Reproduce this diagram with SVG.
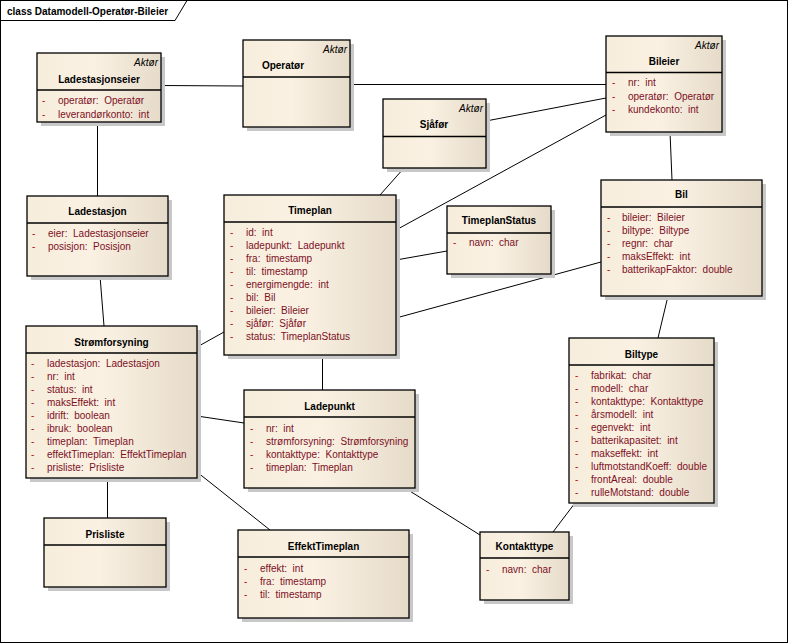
<svg xmlns="http://www.w3.org/2000/svg" width="788" height="643" viewBox="0 0 788 643" xml:space="preserve">
<defs>
<linearGradient id="fillg" x1="0" y1="0" x2="1" y2="0">
<stop offset="0" stop-color="#F7EDDC"/>
<stop offset="0.45" stop-color="#FAF1E3"/>
<stop offset="1" stop-color="#E6DBC9"/>
</linearGradient>
<style>
text{font-family:"Liberation Sans",Arial,sans-serif;font-size:10px;white-space:pre}
.frame{fill:#fff;stroke:#000;stroke-width:1}
.sh{fill:#c8c8c8}
.box{fill:url(#fillg);stroke:#000;stroke-width:1.3}
.div{stroke:#000;stroke-width:1.3}
.ttl{font-weight:bold;fill:#000;text-anchor:middle}
.st{font-style:italic;fill:#000;text-anchor:end}
.at{fill:#7d0f1e}
.ds{fill:#b01010}
.c line{stroke:#000;stroke-width:1;fill:none}
</style>
</defs>
<rect class="frame" x="0.5" y="0.5" width="787" height="642"/>
<path d="M0.5,20.5 H175 L187,0.5" fill="none" stroke="#000" stroke-width="1"/>
<text x="7" y="14.5" style="font-weight:bold">class Datamodell-Operatør-Bileier</text>
<g class="c" id="connectors">
<line x1="161" y1="85.5" x2="243" y2="86"/>
<line x1="350" y1="84.5" x2="606" y2="84.5"/>
<line x1="97.5" y1="122" x2="97.5" y2="196"/>
<line x1="486" y1="121" x2="606" y2="98"/>
<line x1="396" y1="230" x2="606" y2="115"/>
<line x1="404" y1="168" x2="380" y2="195"/>
<line x1="396" y1="260" x2="447" y2="251"/>
<line x1="396" y1="318" x2="601" y2="262"/>
<line x1="670" y1="132" x2="672" y2="180"/>
<line x1="668" y1="296" x2="658" y2="338"/>
<line x1="100" y1="276" x2="104" y2="326"/>
<line x1="197" y1="347" x2="224" y2="332"/>
<line x1="322.5" y1="355" x2="322.5" y2="390"/>
<line x1="197" y1="416" x2="244" y2="423"/>
<line x1="197" y1="472" x2="270" y2="530"/>
<line x1="107.5" y1="478" x2="107.5" y2="518"/>
<line x1="405" y1="488" x2="480" y2="535"/>
<line x1="575" y1="503" x2="553" y2="532"/>
</g>
<g id="Ladestasjonseier">
<rect class="sh" x="41" y="57" width="124" height="69"/>
<rect class="box" x="37" y="53" width="124" height="69"/>
<line class="div" x1="37" y1="90" x2="161" y2="90"/>
<text class="st" x="158" y="65.5">Aktør</text>
<text class="ttl" x="99" y="83">Ladestasjonseier</text>
<text class="ds" x="42" y="103.5">-</text><text class="at" x="58" y="103.5">operatør:  Operatør</text>
<text class="ds" x="42" y="117.5">-</text><text class="at" x="58" y="117.5">leverandørkonto:  int</text>
</g>
<g id="Operator">
<rect class="sh" x="247" y="44" width="107" height="87"/>
<rect class="box" x="243" y="40" width="107" height="87"/>
<line class="div" x1="243" y1="77" x2="350" y2="77"/>
<text class="st" x="347" y="52.5">Aktør</text>
<text class="ttl" x="283" y="68.5">Operatør</text>
</g>
<g id="Sjafor">
<rect class="sh" x="387" y="103" width="103" height="69"/>
<rect class="box" x="383" y="99" width="103" height="69"/>
<line class="div" x1="383" y1="136.5" x2="486" y2="136.5"/>
<text class="st" x="483" y="112">Aktør</text>
<text class="ttl" x="434" y="128">Sjåfør</text>
</g>
<g id="Bileier">
<rect class="sh" x="610" y="40" width="116" height="96"/>
<rect class="box" x="606" y="36" width="116" height="96"/>
<line class="div" x1="606" y1="72.5" x2="722" y2="72.5"/>
<text class="st" x="719" y="48.5">Aktør</text>
<text class="ttl" x="664" y="64.5">Bileier</text>
<text class="ds" x="612" y="86">-</text><text class="at" x="628" y="86">nr:  int</text>
<text class="ds" x="612" y="99.5">-</text><text class="at" x="628" y="99.5">operatør:  Operatør</text>
<text class="ds" x="612" y="112.5">-</text><text class="at" x="628" y="112.5">kundekonto:  int</text>
</g>
<g id="Ladestasjon">
<rect class="sh" x="31" y="200" width="141" height="80"/>
<rect class="box" x="27" y="196" width="141" height="80"/>
<line class="div" x1="27" y1="223" x2="168" y2="223"/>
<text class="ttl" x="97.5" y="215">Ladestasjon</text>
<text class="ds" x="32" y="237">-</text><text class="at" x="48" y="237">eier:  Ladestasjonseier</text>
<text class="ds" x="32" y="250">-</text><text class="at" x="48" y="250">posisjon:  Posisjon</text>
</g>
<g id="Timeplan">
<rect class="sh" x="228" y="199" width="172" height="160"/>
<rect class="box" x="224" y="195" width="172" height="160"/>
<line class="div" x1="224" y1="222" x2="396" y2="222"/>
<text class="ttl" x="310" y="214">Timeplan</text>
<text class="ds" x="230" y="236">-</text><text class="at" x="246" y="236">id:  int</text>
<text class="ds" x="230" y="249">-</text><text class="at" x="246" y="249">ladepunkt:  Ladepunkt</text>
<text class="ds" x="230" y="262">-</text><text class="at" x="246" y="262">fra:  timestamp</text>
<text class="ds" x="230" y="275">-</text><text class="at" x="246" y="275">til:  timestamp</text>
<text class="ds" x="230" y="288">-</text><text class="at" x="246" y="288">energimengde:  int</text>
<text class="ds" x="230" y="301">-</text><text class="at" x="246" y="301">bil:  Bil</text>
<text class="ds" x="230" y="314">-</text><text class="at" x="246" y="314">bileier:  Bileier</text>
<text class="ds" x="230" y="327">-</text><text class="at" x="246" y="327">sjåfør:  Sjåfør</text>
<text class="ds" x="230" y="340">-</text><text class="at" x="246" y="340">status:  TimeplanStatus</text>
</g>
<g id="TimeplanStatus">
<rect class="sh" x="451" y="210" width="104" height="68"/>
<rect class="box" x="447" y="206" width="104" height="68"/>
<line class="div" x1="447" y1="233" x2="551" y2="233"/>
<text class="ttl" x="499" y="224">TimeplanStatus</text>
<text class="ds" x="453" y="246">-</text><text class="at" x="469" y="246">navn:  char</text>
</g>
<g id="Bil">
<rect class="sh" x="605" y="184" width="161" height="116"/>
<rect class="box" x="601" y="180" width="161" height="116"/>
<line class="div" x1="601" y1="207" x2="762" y2="207"/>
<text class="ttl" x="681.5" y="198">Bil</text>
<text class="ds" x="607" y="221">-</text><text class="at" x="622" y="221">bileier:  Bileier</text>
<text class="ds" x="607" y="234">-</text><text class="at" x="622" y="234">biltype:  Biltype</text>
<text class="ds" x="607" y="247">-</text><text class="at" x="622" y="247">regnr:  char</text>
<text class="ds" x="607" y="260">-</text><text class="at" x="622" y="260">maksEffekt:  int</text>
<text class="ds" x="607" y="273">-</text><text class="at" x="622" y="273">batterikapFaktor:  double</text>
</g>
<g id="Stromforsyning">
<rect class="sh" x="30" y="330" width="171" height="152"/>
<rect class="box" x="26" y="326" width="171" height="152"/>
<line class="div" x1="26" y1="353" x2="197" y2="353"/>
<text class="ttl" x="111.5" y="345.5">Strømforsyning</text>
<text class="ds" x="31" y="367">-</text><text class="at" x="47" y="367">ladestasjon:  Ladestasjon</text>
<text class="ds" x="31" y="380">-</text><text class="at" x="47" y="380">nr:  int</text>
<text class="ds" x="31" y="393">-</text><text class="at" x="47" y="393">status:  int</text>
<text class="ds" x="31" y="406">-</text><text class="at" x="47" y="406">maksEffekt:  int</text>
<text class="ds" x="31" y="419">-</text><text class="at" x="47" y="419">idrift:  boolean</text>
<text class="ds" x="31" y="432">-</text><text class="at" x="47" y="432">ibruk:  boolean</text>
<text class="ds" x="31" y="445">-</text><text class="at" x="47" y="445">timeplan:  Timeplan</text>
<text class="ds" x="31" y="458">-</text><text class="at" x="47" y="458">effektTimeplan:  EffektTimeplan</text>
<text class="ds" x="31" y="471">-</text><text class="at" x="47" y="471">prisliste:  Prisliste</text>
</g>
<g id="Ladepunkt">
<rect class="sh" x="248" y="394" width="171" height="98"/>
<rect class="box" x="244" y="390" width="171" height="98"/>
<line class="div" x1="244" y1="417" x2="415" y2="417"/>
<text class="ttl" x="329.5" y="409.5">Ladepunkt</text>
<text class="ds" x="250" y="432">-</text><text class="at" x="266" y="432">nr:  int</text>
<text class="ds" x="250" y="445">-</text><text class="at" x="266" y="445">strømforsyning:  Strømforsyning</text>
<text class="ds" x="250" y="458">-</text><text class="at" x="266" y="458">kontakttype:  Kontakttype</text>
<text class="ds" x="250" y="471">-</text><text class="at" x="266" y="471">timeplan:  Timeplan</text>
</g>
<g id="Biltype">
<rect class="sh" x="573" y="342" width="145" height="165"/>
<rect class="box" x="569" y="338" width="145" height="165"/>
<line class="div" x1="569" y1="365" x2="714" y2="365"/>
<text class="ttl" x="641.5" y="358">Biltype</text>
<text class="ds" x="575" y="379">-</text><text class="at" x="591" y="379">fabrikat:  char</text>
<text class="ds" x="575" y="392">-</text><text class="at" x="591" y="392">modell:  char</text>
<text class="ds" x="575" y="405">-</text><text class="at" x="591" y="405">kontakttype:  Kontakttype</text>
<text class="ds" x="575" y="418">-</text><text class="at" x="591" y="418">årsmodell:  int</text>
<text class="ds" x="575" y="431">-</text><text class="at" x="591" y="431">egenvekt:  int</text>
<text class="ds" x="575" y="444">-</text><text class="at" x="591" y="444">batterikapasitet:  int</text>
<text class="ds" x="575" y="457">-</text><text class="at" x="591" y="457">makseffekt:  int</text>
<text class="ds" x="575" y="470">-</text><text class="at" x="591" y="470">luftmotstandKoeff:  double</text>
<text class="ds" x="575" y="483">-</text><text class="at" x="591" y="483">frontAreal:  double</text>
<text class="ds" x="575" y="496">-</text><text class="at" x="591" y="496">rulleMotstand:  double</text>
</g>
<g id="Prisliste">
<rect class="sh" x="48" y="522" width="122" height="69"/>
<rect class="box" x="44" y="518" width="122" height="69"/>
<line class="div" x1="44" y1="545" x2="166" y2="545"/>
<text class="ttl" x="105" y="537.5">Prisliste</text>
</g>
<g id="EffektTimeplan">
<rect class="sh" x="242" y="534" width="171" height="88"/>
<rect class="box" x="238" y="530" width="171" height="88"/>
<line class="div" x1="238" y1="557" x2="409" y2="557"/>
<text class="ttl" x="323.5" y="549.5">EffektTimeplan</text>
<text class="ds" x="244" y="571.5">-</text><text class="at" x="260" y="571.5">effekt:  int</text>
<text class="ds" x="244" y="584.5">-</text><text class="at" x="260" y="584.5">fra:  timestamp</text>
<text class="ds" x="244" y="597.5">-</text><text class="at" x="260" y="597.5">til:  timestamp</text>
</g>
<g id="Kontakttype">
<rect class="sh" x="484" y="536" width="89" height="68"/>
<rect class="box" x="480" y="532" width="89" height="68"/>
<line class="div" x1="480" y1="558" x2="569" y2="558"/>
<text class="ttl" x="524.5" y="550">Kontakttype</text>
<text class="ds" x="486" y="573">-</text><text class="at" x="502" y="573">navn:  char</text>
</g>
</svg>
